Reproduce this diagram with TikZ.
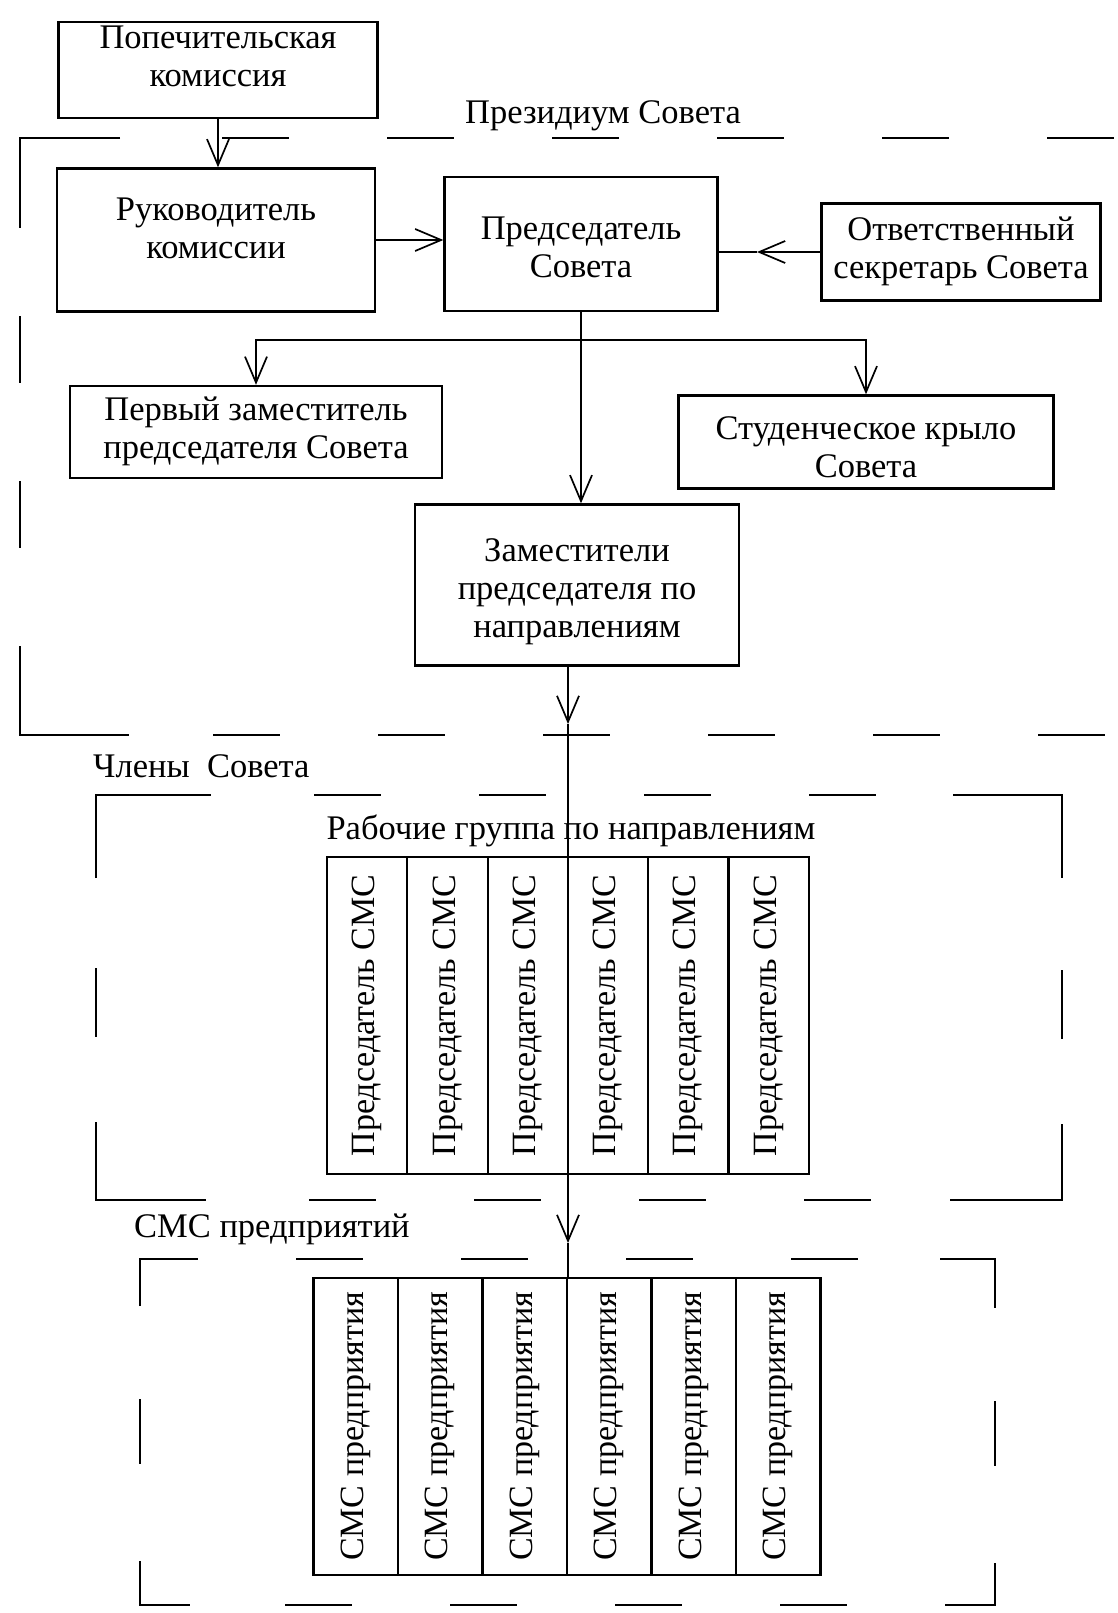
\documentclass[tikz,border=0pt]{standalone}
\usepackage{fontspec}
\setmainfont{Liberation Serif}
\usepackage{graphicx}
\usetikzlibrary{arrows.meta}
\newcommand\mainfs{\fontsize{34.5pt}{38pt}\selectfont}
\newcommand\colfs{\fontsize{34pt}{38pt}\selectfont}
% lines of a box; optional argument = extra depth (positive moves text up by half of it)
\newcommand\btext[2][0pt]{\raisebox{0pt}[\height][\dimexpr\depth+#1\relax]{\begin{tabular}{@{}c@{}}#2\end{tabular}}}
\begin{document}
\begin{tikzpicture}[x=1pt,y=-1pt,
  box/.style={draw,line width=2.4pt,inner sep=0pt,font=\mainfs},
  lbl/.style={inner sep=0pt,font=\mainfs},
  colA/.style={draw,line width=2.1pt,inner sep=0pt,minimum width=80.3pt,minimum height=317pt,font=\colfs},
  colB/.style={draw,line width=2.1pt,inner sep=0pt,minimum width=84.5pt,minimum height=297pt,font=\colfs},
  conn/.style={line width=1.7pt},
  arr/.style={conn,-{Straight Barb[length=26pt,width=22pt]}},
  frm/.style={line width=2.3pt},
  frmd/.style={frm,dash pattern=on 67pt off 98pt}]
\useasboundingbox (0,0) rectangle (1118,1613);

% ---------- boxes ----------
\node[box,minimum width=319pt,minimum height=92pt] (popech) at (218,70) {\btext[20pt]{Попечительская\\комиссия}};
\node[box,minimum width=318pt,minimum height=143pt] (ruk) at (216,240) {\btext[16pt]{Руководитель\\комиссии}};
\node[box,minimum width=273pt,minimum height=134pt] (pred) at (581,244) {\btext[-14pt]{Председатель\\Совета}};
\node[box,minimum width=279pt,minimum height=97pt] (otv) at (961,252) {\btext{Ответственный\\секретарь Совета}};
\node[box,minimum width=372pt,minimum height=92pt] (perv) at (256,432) {\btext{Первый заместитель\\председателя Совета}};
\node[box,minimum width=375pt,minimum height=93pt] (stud) at (866,442) {\btext[-18pt]{Студенческое крыло\\Совета}};
\node[box,minimum width=324pt,minimum height=161pt] (zam) at (577,585) {\btext[-14pt]{Заместители\\председателя по\\направлениям}};

% ---------- frame labels ----------
\node[lbl] (prezlbl) at (603,116) {Президиум Совета};
\node[lbl,anchor=west] (chlbl) at (93,766) {Члены\ \ Совета};
\node[lbl] (rablbl) at (571,831) {Рабочие группа по направлениям};
\node[lbl,anchor=west] (smclbl) at (134,1229) {СМС предприятий};

% ---------- tables ----------
\foreach \i in {1,...,6} {
  \node[colA] (r\i) at ({327+80.3*(\i-0.5)},1015.5) {\rotatebox{90}{Председатель СМС}};
  \node[colB] (s\i) at ({313.5+84.5*(\i-0.5)},1426.5) {\rotatebox{90}{СМС предприятия}};
}

% ---------- connectors ----------
\draw[arr] (popech.south) -- (popech.south |- ruk.north);
\draw[arr] (ruk.east) -- (pred.west |- ruk.east);
\coordinate (t3) at (757,252);
\draw[arr] (otv.west) -- (t3);
\draw[conn] (t3) -- (pred.east |- t3);
\draw[arr] (pred.south) -- (pred.south |- zam.north);
\coordinate (br) at (581,340);
\draw[arr] (br) -| (perv.north);
\draw[arr] (br) -| (stud.north);
\coordinate (t1) at (568,724);
\coordinate (t2) at (568,1243);
\draw[arr] (zam.south -| t1) -- (t1);
\draw[arr] (t1) -- (t2);
\draw[conn] (t2) -- (t2 |- s4.north);

% ---------- dashed frame: Президиум Совета ----------
\draw[frm] (120,138) -- (20,138) -- (20,228);
\draw[frmd] (222,138) -- (1118,138);
\draw[frmd] (20,316) -- (20,649);
\draw[frm] (20,649) -- (20,735) -- (129,735);
\draw[frmd] (213,735) -- (1118,735);

% ---------- dashed frame: Члены Совета ----------
\draw[frm] (96,878) -- (96,795) -- (211,795);
\draw[frmd] (314,795) -- (953,795);
\draw[frm] (953,795) -- (1062,795) -- (1062,878);
\draw[frm] (96,968) -- (96,1037);
\draw[frm] (1062,970) -- (1062,1039);
\draw[frm] (96,1122) -- (96,1200) -- (206,1200);
\draw[frmd] (309,1200) -- (950,1200);
\draw[frm] (950,1200) -- (1062,1200) -- (1062,1124);

% ---------- dashed frame: СМС предприятий ----------
\draw[frm] (140,1306) -- (140,1259) -- (198,1259);
\draw[frmd] (296,1259) -- (940,1259);
\draw[frm] (940,1259) -- (995,1259) -- (995,1308);
\draw[frm] (140,1399) -- (140,1464);
\draw[frm] (995,1401) -- (995,1466);
\draw[frm] (140,1561) -- (140,1605) -- (190,1605);
\draw[frmd] (285,1605) -- (940,1605);
\draw[frm] (995,1563) -- (995,1605) -- (945,1605);
\end{tikzpicture}
\end{document}
